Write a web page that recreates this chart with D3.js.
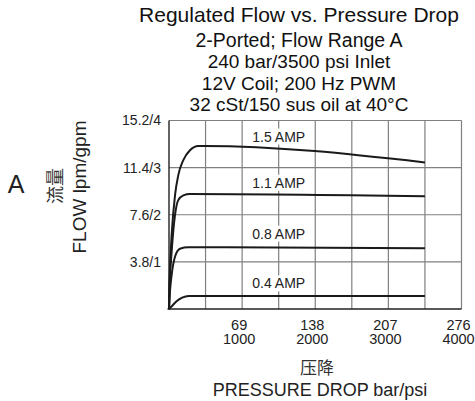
<!DOCTYPE html>
<html>
<head>
<meta charset="utf-8">
<script src="https://cdn.jsdelivr.net/npm/d3@7"></script>
<style>
  body { margin: 0; background: #fff; }
  svg { font-family: 'Liberation Sans', Arial, sans-serif; }
  .curve { fill: none; stroke: #1a1a1a; stroke-width: 2; }
</style>
</head>
<body>
<div class="chart"></div>
<script>
// Data
const titleLines = ['Regulated Flow vs. Pressure Drop', '2-Ported; Flow Range A', '240 bar/3500 psi Inlet',
                    '12V Coil; 200 Hz PWM', '32 cSt/150 sus oil at 40°C'];
const xGrid = [500, 1000, 1500, 2000, 2500, 3000, 3500, 4000]; // psi
const xTicks = [1000, 2000, 3000, 4000];          // psi
const xTickBar = ['69', '138', '207', '276'];     // bar
const yGrid = [1, 2, 3, 4];                       // gpm
const yTickLabels = ['3.8/1', '7.6/2', '11.4/3', '15.2/4'];
const ampNames = ['1.5 AMP', '1.1 AMP', '0.8 AMP', '0.4 AMP'];
const ampLabelY = [3.66, 2.68, 1.6, 0.545];       // gpm, where each label sits
// curves: [psi, gpm]
const amp15 = [[0,0],[5,0.45],[16,0.95],[36,1.57],[82,2.41],[127,2.84],[196,3.16],[287,3.37],[400,3.46],[480,3.46],[3500,3.11]];
const amp11 = [[0,0],[10,0.55],[36,1.21],[82,1.99],[127,2.31],[196,2.41],[287,2.44],[3500,2.39]];
const amp08 = [[0,0],[12,0.35],[36,0.72],[82,1.11],[150,1.28],[264,1.31],[3500,1.29]];
const amp04 = [[0,0],[45,0.07],[100,0.16],[180,0.24],[270,0.275],[3500,0.275]];
const curves = [amp15, amp11, amp08, amp04];

const svg_width = 475, svg_height = 401;
const margin = {top: 120.5, left: 169, right: 13.5, bottom: 92};
const width = svg_width - margin.left - margin.right;
const height = svg_height - margin.top - margin.bottom;

const svg = d3.select('.chart').append('svg')
  .attr('width', svg_width).attr('height', svg_height);

// Titles
const titleY = [22, 47, 68, 90, 111];
const titleSize = [21, 19.5, 19, 19, 19];
svg.append('g').selectAll('text').data(titleLines).join('text')
  .attr('x', 299).attr('y', (d, i) => titleY[i])
  .attr('text-anchor', 'middle').attr('fill', '#111')
  .style('font-size', (d, i) => titleSize[i] + 'px')
  .text(d => d);

const g = svg.append('g').attr('transform', `translate(${margin.left},${margin.top})`);

const xScale = d3.scaleLinear([0, 4000], [0, width]);
const yScale = d3.scaleLinear([0, 4], [height, 0]);

// grid (one path)
const gridPath = d3.path();
xGrid.forEach(v => { gridPath.moveTo(xScale(v), 0); gridPath.lineTo(xScale(v), height); });
yGrid.forEach(v => { gridPath.moveTo(0, yScale(v)); gridPath.lineTo(width, yScale(v)); });
g.append('path').attr('d', gridPath.toString())
  .attr('fill', 'none').attr('stroke', '#808080').attr('stroke-width', 1.2);

// frame: left & bottom dark
g.append('line').attr('x1', -1.5).attr('x2', width).attr('y1', height).attr('y2', height)
  .attr('stroke', '#222').attr('stroke-width', 1.4);
g.append('line').attr('x1', 0).attr('x2', 0).attr('y1', 0).attr('y2', height + 0.7)
  .attr('stroke', '#222').attr('stroke-width', 1.4);

// y tick labels
const yAxis = g.append('g')
  .call(d3.axisLeft(yScale).tickValues(yGrid).tickSize(0).tickPadding(8)
    .tickFormat((d, i) => yTickLabels[i]));
yAxis.select('.domain').remove();
yAxis.selectAll('text').style('font-size', '14px').attr('fill', '#222')
  .style('font-family', "'Liberation Sans', Arial, sans-serif");

// x tick labels (bar over psi)
const xAxis = g.append('g').attr('transform', `translate(0,${height})`)
  .call(d3.axisBottom(xScale).tickValues(xTicks).tickSize(0).tickFormat(''));
xAxis.select('.domain').remove();
xAxis.selectAll('.tick').append('text')
  .attr('text-anchor', 'middle').attr('fill', '#222')
  .style('font-size', '14.5px').style('font-family', "'Liberation Sans', Arial, sans-serif")
  .selectAll('tspan').data((d, i) => [xTickBar[i], d]).join('tspan')
  .attr('x', -3.5).attr('y', (d, i) => i === 0 ? 21 : 35)
  .text(d => d);

// curves
const line = d3.line().x(d => xScale(d[0])).y(d => yScale(d[1])).curve(d3.curveMonotoneX);
g.selectAll('.curve').data(curves).join('path').attr('class', 'curve').attr('d', line);

// amp labels with white box
const labels = g.selectAll('.amp').data(ampNames).join('g').attr('class', 'amp')
  .attr('transform', (d, i) => `translate(${xScale(1500)},${yScale(ampLabelY[i])})`);
labels.append('rect');
labels.append('text').attr('text-anchor', 'middle').attr('dy', '0.36em')
  .style('font-size', '14px').attr('fill', '#222').text(d => d);
labels.each(function() {
  const b = d3.select(this).select('text').node().getBBox();
  d3.select(this).select('rect')
    .attr('x', b.x - 2).attr('y', b.y).attr('width', b.width + 4).attr('height', b.height)
    .attr('fill', '#fff');
});

// axis titles
svg.append('text').attr('x', 16).attr('y', 193).attr('text-anchor', 'middle')
  .style('font-size', '25px').attr('fill', '#222').text('A');
svg.append('text').attr('transform', 'translate(62,186) rotate(-90)')
  .attr('text-anchor', 'middle')
  .style('font-family', "'Noto Sans CJK SC', sans-serif").style('font-size', '18px')
  .attr('fill', '#333').text('流量');
svg.append('text').attr('transform', 'translate(86,187) rotate(-90)')
  .attr('text-anchor', 'middle').style('font-size', '19px').attr('fill', '#222')
  .text('FLOW lpm/gpm');
svg.append('text').attr('x', 317).attr('y', 374).attr('text-anchor', 'middle')
  .style('font-family', "'Noto Sans CJK SC', sans-serif").style('font-size', '17px')
  .attr('fill', '#333').text('压降');
svg.append('text').attr('x', 320).attr('y', 396).attr('text-anchor', 'middle')
  .style('font-size', '18px').attr('fill', '#222').text('PRESSURE DROP bar/psi');
</script>
</body>
</html>
